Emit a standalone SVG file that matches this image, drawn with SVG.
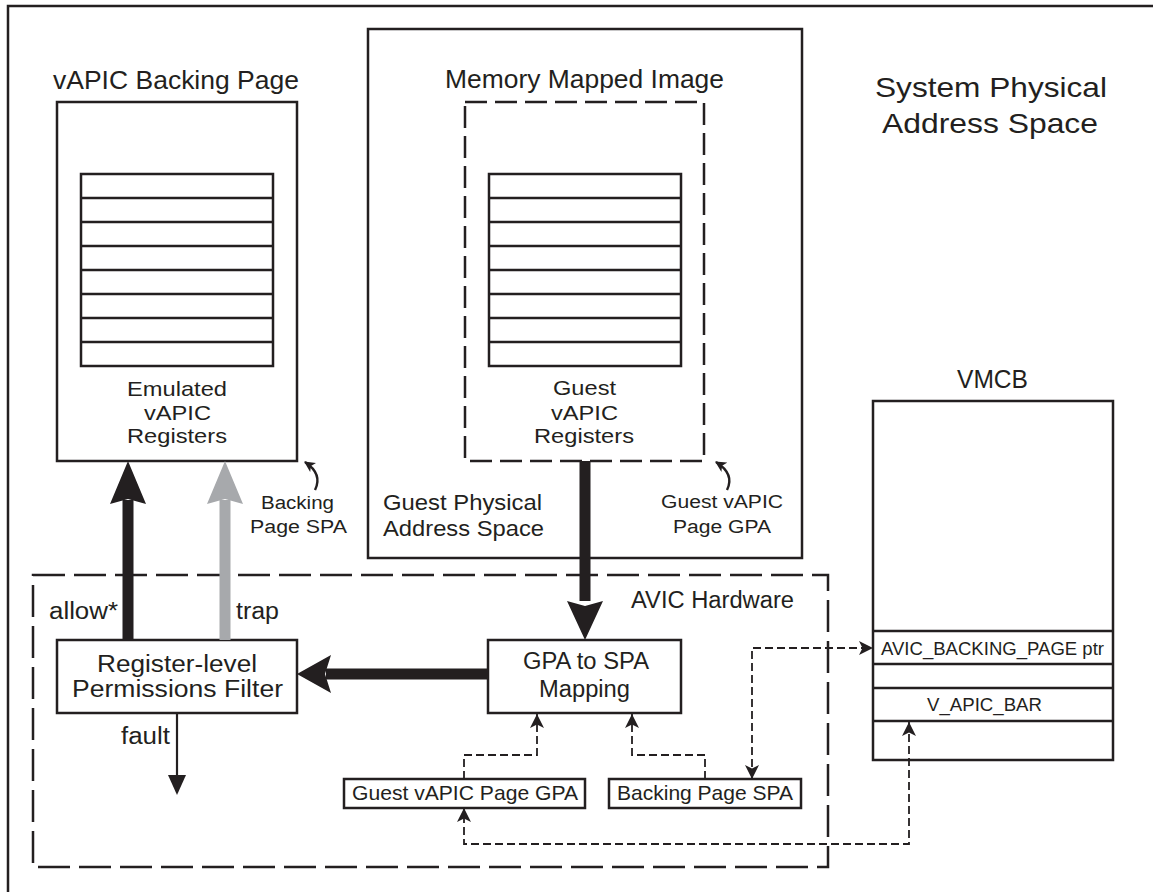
<svg xmlns="http://www.w3.org/2000/svg" width="1153" height="892" viewBox="0 0 1153 892">
<style>
.t{font-family:"Liberation Sans",Arial,Helvetica,sans-serif;fill:#231f20}
.box{fill:#fff;stroke:#231f20;stroke-width:2.5}
.nf{fill:none}
.dash1{stroke-dasharray:22 8}
.dash2{stroke-dasharray:32 9}
.reg{fill:none;stroke:#231f20;stroke-width:2.5}
.conn{fill:none;stroke:#231f20;stroke-width:1.8;stroke-dasharray:8 4}
.fill{fill:#231f20}
.gray{fill:#a7a9ac}
</style>
<defs>
<marker id="ah" viewBox="0 0 14 14" refX="14" refY="7" markerWidth="14" markerHeight="14" markerUnits="userSpaceOnUse" orient="auto-start-reverse">
<path d="M0,0 L14,7 L0,14 L3.5,7 z" fill="#231f20" stroke="none"/>
</marker>
<marker id="cah" viewBox="0 0 10 10" refX="9" refY="5" markerWidth="11" markerHeight="11" markerUnits="userSpaceOnUse" orient="auto">
<path d="M0,0 L10,5 L0,10 L2.5,5 z" fill="#231f20"/>
</marker>
<g id="regstack">
<rect x="0" y="0" width="192" height="192" class="reg"/>
<path d="M0,24H192M0,48H192M0,72H192M0,96H192M0,120H192M0,144H192M0,168H192" class="reg"/>
</g>
</defs>
<rect width="1153" height="892" fill="#fff"/>

<g id="frame">
<path d="M8,892 V6 H1153" fill="none" stroke="#231f20" stroke-width="2.5"/>
<text class="t" x="875" y="97" font-size="28" textLength="232" lengthAdjust="spacingAndGlyphs">System Physical</text>
<text class="t" x="882" y="133" font-size="28" textLength="216" lengthAdjust="spacingAndGlyphs">Address Space</text>
</g>

<g id="backing-page">
<text class="t" x="53" y="89" font-size="25" textLength="246" lengthAdjust="spacingAndGlyphs">vAPIC Backing Page</text>
<rect x="57" y="102" width="240" height="359" class="box"/>
<use href="#regstack" x="81" y="174"/>
<text class="t" x="127" y="396" font-size="21" textLength="100" lengthAdjust="spacingAndGlyphs">Emulated</text>
<text class="t" x="144" y="420" font-size="21" textLength="67" lengthAdjust="spacingAndGlyphs">vAPIC</text>
<text class="t" x="127" y="443" font-size="21" textLength="100" lengthAdjust="spacingAndGlyphs">Registers</text>
</g>

<g id="backing-page-spa-label">
<path d="M315,490 Q323,474 305,462" fill="none" stroke="#231f20" stroke-width="2.4" marker-end="url(#cah)"/>
<text class="t" x="261" y="509" font-size="18" textLength="73" lengthAdjust="spacingAndGlyphs">Backing</text>
<text class="t" x="250" y="533" font-size="18" textLength="97" lengthAdjust="spacingAndGlyphs">Page SPA</text>
</g>

<g id="guest-space">
<rect x="368" y="29" width="434" height="529" class="box"/>
<text class="t" x="445" y="88" font-size="25" textLength="279" lengthAdjust="spacingAndGlyphs">Memory Mapped Image</text>
<text class="t" x="383" y="510" font-size="22" textLength="159" lengthAdjust="spacingAndGlyphs">Guest Physical</text>
<text class="t" x="383" y="536" font-size="22" textLength="161" lengthAdjust="spacingAndGlyphs">Address Space</text>
</g>

<g id="mmio-image">
<rect x="465" y="102" width="239" height="359" class="box nf dash1"/>
<use href="#regstack" x="489" y="174"/>
<text class="t" x="553" y="395" font-size="21" textLength="63" lengthAdjust="spacingAndGlyphs">Guest</text>
<text class="t" x="551" y="420" font-size="21" textLength="67" lengthAdjust="spacingAndGlyphs">vAPIC</text>
<text class="t" x="534" y="443" font-size="21" textLength="100" lengthAdjust="spacingAndGlyphs">Registers</text>
</g>

<g id="guest-gpa-label">
<path d="M727,490 Q735,474 716,462" fill="none" stroke="#231f20" stroke-width="2.4" marker-end="url(#cah)"/>
<text class="t" x="661" y="508" font-size="18" textLength="122" lengthAdjust="spacingAndGlyphs">Guest vAPIC</text>
<text class="t" x="673" y="533" font-size="18" textLength="98" lengthAdjust="spacingAndGlyphs">Page GPA</text>
</g>

<g id="avic-hw">
<rect x="33" y="575" width="795" height="292" class="box nf dash2"/>
<text class="t" x="631" y="608" font-size="23" textLength="163" lengthAdjust="spacingAndGlyphs">AVIC Hardware</text>
</g>

<g id="vmcb">
<text class="t" x="957" y="388" font-size="26" textLength="71" lengthAdjust="spacingAndGlyphs">VMCB</text>
<rect x="873" y="401" width="240" height="359" class="box"/>
<path d="M873,631H1113M873,664H1113M873,688H1113M873,721H1113" class="reg"/>
<text class="t" x="881" y="655" font-size="18" textLength="223" lengthAdjust="spacingAndGlyphs">AVIC_BACKING_PAGE ptr</text>
<text class="t" x="927" y="711" font-size="18" textLength="115" lengthAdjust="spacingAndGlyphs">V_APIC_BAR</text>
</g>

<g id="filter">
<rect x="57" y="640" width="240" height="73" class="box"/>
<text class="t" x="97" y="672" font-size="23" textLength="160" lengthAdjust="spacingAndGlyphs">Register-level</text>
<text class="t" x="72" y="697" font-size="23" textLength="211" lengthAdjust="spacingAndGlyphs">Permissions Filter</text>
</g>

<g id="gpa-spa">
<rect x="488" y="640" width="193" height="73" class="box"/>
<text class="t" x="523" y="669" font-size="23" textLength="126" lengthAdjust="spacingAndGlyphs">GPA to SPA</text>
<text class="t" x="539" y="697" font-size="23" textLength="91" lengthAdjust="spacingAndGlyphs">Mapping</text>
</g>

<g id="guest-gpa-reg">
<rect x="344" y="779" width="241" height="29" class="box" stroke-width="2"/>
<text class="t" x="352" y="800" font-size="21" textLength="226" lengthAdjust="spacingAndGlyphs">Guest vAPIC Page GPA</text>
</g>

<g id="backing-spa-reg">
<rect x="609" y="779" width="192" height="29" class="box" stroke-width="2"/>
<text class="t" x="617" y="800" font-size="21" textLength="176" lengthAdjust="spacingAndGlyphs">Backing Page SPA</text>
</g>

<g id="connectors">
<!-- allow* -->
<rect x="122.5" y="500" width="11" height="140" class="fill"/>
<polygon points="128,461 146,504 128,499 110,504" class="fill"/>
<text class="t" x="49" y="619" font-size="23" textLength="69" lengthAdjust="spacingAndGlyphs">allow*</text>
<!-- trap -->
<rect x="219.5" y="500" width="11" height="140" class="gray"/>
<polygon points="225,461 243,504 225,499 207,504" class="gray"/>
<text class="t" x="236" y="619" font-size="23" textLength="43" lengthAdjust="spacingAndGlyphs">trap</text>
<!-- guest regs to mapping -->
<rect x="579.5" y="461" width="11" height="140" class="fill"/>
<polygon points="585,640 603,601 585,606 567,601" class="fill"/>
<!-- mapping to filter -->
<rect x="326" y="668.5" width="162" height="11" class="fill"/>
<polygon points="297,674 331,655 325,674 331,693" class="fill"/>
<!-- fault -->
<line x1="177" y1="713" x2="177" y2="778" stroke="#231f20" stroke-width="2.2"/>
<polygon points="168,775 186,775 177,795" class="fill"/>
<text class="t" x="121" y="744" font-size="23" textLength="49" lengthAdjust="spacingAndGlyphs">fault</text>
<!-- dashed -->
<path d="M464,779 V755 H537 V714" class="conn" marker-end="url(#ah)"/>
<path d="M705,779 V755 H632 V714" class="conn" marker-end="url(#ah)"/>
<path d="M752,779 V648 H873" class="conn" marker-start="url(#ah)" marker-end="url(#ah)"/>
<path d="M909,722 V844 H464 V808" class="conn" marker-start="url(#ah)" marker-end="url(#ah)"/>
</g>
</svg>
